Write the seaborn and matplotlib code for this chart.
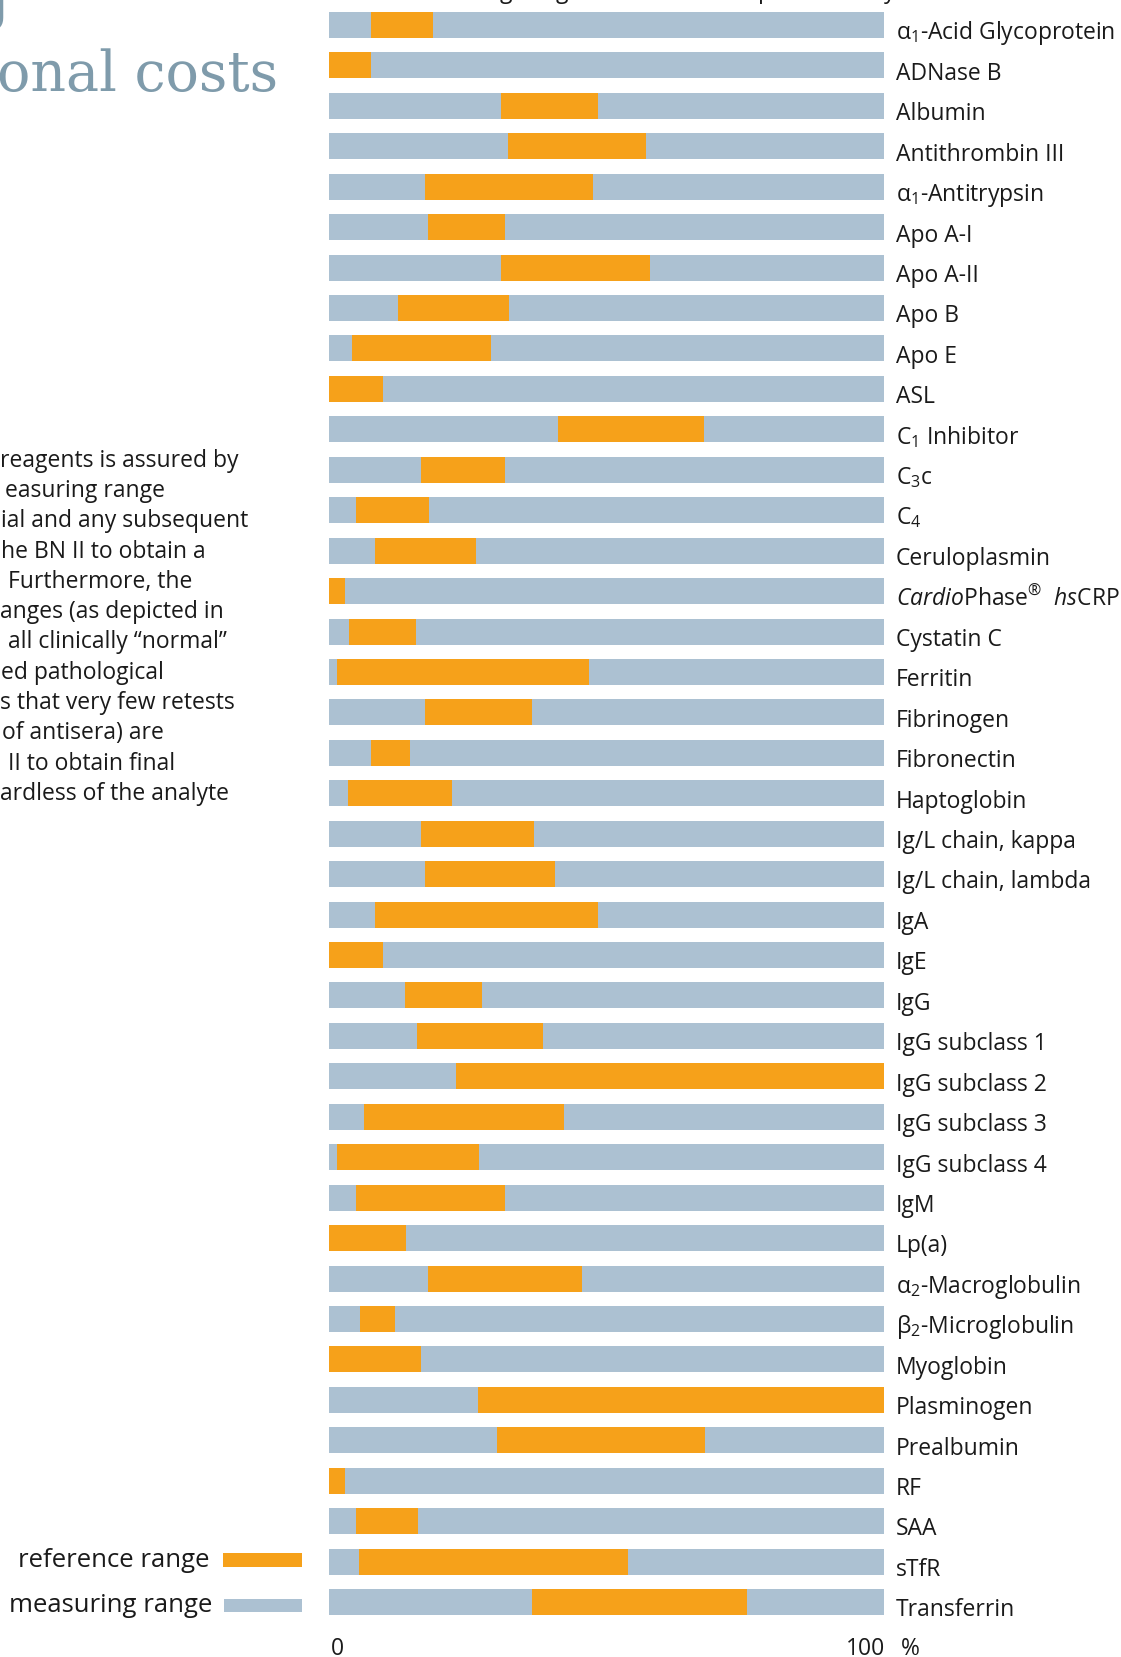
import matplotlib
matplotlib.use("Agg")
import matplotlib.pyplot as plt
from matplotlib.patches import Rectangle
import seaborn as sns
import pandas as pd

# analytes, top to bottom
analytes = [
    "α$_1$-Acid Glycoprotein", "ADNase B", "Albumin", "Antithrombin III",
    "α$_1$-Antitrypsin", "Apo A-I", "Apo A-II", "Apo B", "Apo E", "ASL",
    "C$_1$ Inhibitor", "C$_3$c", "C$_4$", "Ceruloplasmin",
    r"$\mathit{Cardio}$Phase$^{\circledR}$  $\mathit{hs}$CRP",
    "Cystatin C", "Ferritin", "Fibrinogen", "Fibronectin", "Haptoglobin",
    "Ig/L chain, kappa", "Ig/L chain, lambda", "IgA", "IgE", "IgG",
    "IgG subclass 1", "IgG subclass 2", "IgG subclass 3", "IgG subclass 4",
    "IgM", "Lp(a)", "α$_2$-Macroglobulin", "β$_2$-Microglobulin",
    "Myoglobin", "Plasminogen", "Prealbumin", "RF", "SAA", "sTfR",
    "Transferrin",
]

# measuring range is the full bar (0-100 %)
measuring = [100] * len(analytes)

# reference range, start and end in % of the measuring range
ref_low = [7.6, 0, 31.0, 32.3, 17.3, 17.8, 31.0, 12.5, 4.1, 0,
           41.3, 16.6, 4.9, 8.3, 0, 3.6, 1.4, 17.3, 7.6, 3.4, 16.6,
           17.3, 8.3, 0, 13.7, 15.9, 22.8, 6.3, 1.4, 4.9, 0,
           17.8, 5.6, 0, 26.9, 30.3, 0, 4.9, 5.4, 36.6]
ref_high = [18.8, 7.6, 48.4, 57.2, 47.6, 31.8, 57.9, 32.5, 29.1, 9.8,
            67.5, 31.8, 18.0, 26.4, 2.9, 15.6, 46.9, 36.6, 14.6, 22.2, 37.0,
            40.8, 48.4, 9.8, 27.6, 38.6, 100, 42.3, 27.1, 31.8, 13.9,
            45.5, 11.9, 16.6, 100, 67.7, 2.9, 16.1, 53.8, 75.3]

x_ticks = [0, 100]
x_tick_labels = ["0", "100"]

body_lines = [
    "reagents is assured by",
    "easuring range",
    "ial and any subsequent",
    "he BN II to obtain a",
    " Furthermore, the",
    "anges (as depicted in",
    " all clinically “normal”",
    "ed pathological",
    "s that very few retests",
    "of antisera) are",
    " II to obtain final",
    "ardless of the analyte",
]
body_x = [0, 5, 1, 1, 2, 0, 2, 1, 0, 2, 2, 0]

ORANGE = "#F6A11A"
BLUE = "#ACC1D2"
TITLE = "#7F9BAB"
INK = "#1a1a1a"

W, H = 1121, 1658

sns.set_style("white")
plt.rcParams["font.family"] = ["Open Sans", "DejaVu Sans"]
plt.rcParams["mathtext.fontset"] = "custom"
plt.rcParams["mathtext.rm"] = "Open Sans"
plt.rcParams["mathtext.it"] = "Open Sans:italic"
plt.rcParams["mathtext.bf"] = "Open Sans:bold"


def fx(px):
    return px / W


def fy(py):
    return 1 - py / H


df = pd.DataFrame({"analyte": analytes, "measuring": measuring,
                   "low": ref_low, "high": ref_high})
df["ref_width"] = df["high"] - df["low"]

fig = plt.figure(figsize=(W / 100, H / 100), dpi=100)
ax_left, ax_right = 329, 884
ax_top, ax_bottom = 5.8, 1623.2
ax = fig.add_axes([fx(ax_left), fy(ax_bottom),
                   (ax_right - ax_left) / W, (ax_bottom - ax_top) / H])

bar_h = 0.643
sns.barplot(data=df, x="measuring", y="analyte", color=BLUE, saturation=1,
            width=bar_h, linewidth=0, orient="h", ax=ax)
ax.barh(range(len(df)), df["ref_width"], left=df["low"], height=bar_h,
        color=ORANGE, linewidth=0)

ax.set_xlim(0, 100)
ax.set_ylim(len(df) - 0.5, -0.5)
ax.set_xticks([])
ax.set_yticks([])
ax.set_xlabel("")
ax.set_ylabel("")
sns.despine(ax=ax, left=True, bottom=True)

# analyte labels at the right of the bars
for i, name in enumerate(df["analyte"]):
    ax.text(102.16, i + 0.33, name, fontsize=16.5, color=INK,
            ha="left", va="baseline", clip_on=False)

# scale labels under the bars
xt = ax.get_xaxis_transform()
ax.text(x_ticks[0] + 0.4, -0.0198, x_tick_labels[0], transform=xt,
        fontsize=16.5, color=INK, ha="left", va="baseline")
ax.text(x_ticks[1] + 0.3, -0.0198, x_tick_labels[1], transform=xt,
        fontsize=16.5, color=INK, ha="right", va="baseline")
ax.text(103.0, -0.0198, "%", transform=xt, fontsize=16.5, color=INK,
        ha="left", va="baseline")

# page text on the left, cut by the page edge
fig.text(fx(10), fy(19), "Reducing", fontsize=40, family="DejaVu Serif",
         color=TITLE, ha="right", va="baseline")
fig.text(fx(278), fy(91), "onal costs", fontsize=40, family="DejaVu Serif",
         color=TITLE, ha="right", va="baseline")
for k, (line, x0) in enumerate(zip(body_lines, body_x)):
    fig.text(fx(x0), fy(466.7 + k * 30.3), line, fontsize=16.5, color=INK,
             ha="left", va="baseline")

# descenders of the caption line above the chart
for ch, px in [("g", 500), ("g", 556), ("p", 758), ("y", 884)]:
    fig.text(fx(px), fy(-2), ch, fontsize=16.5, color=INK,
             ha="left", va="baseline")

# legend
fig.text(fx(209), fy(1567), "reference range", fontsize=18.5, color=INK,
         ha="right", va="baseline")
fig.text(fx(212), fy(1612), "measuring range", fontsize=18.5, color=INK,
         ha="right", va="baseline")
fig.patches.append(Rectangle((fx(223), fy(1568)), fx(79), 14 / H,
                             transform=fig.transFigure, color=ORANGE, lw=0))
fig.patches.append(Rectangle((fx(224), fy(1613)), fx(78), 13 / H,
                             transform=fig.transFigure, color=BLUE, lw=0))

fig.savefig("out.png", dpi=100)
